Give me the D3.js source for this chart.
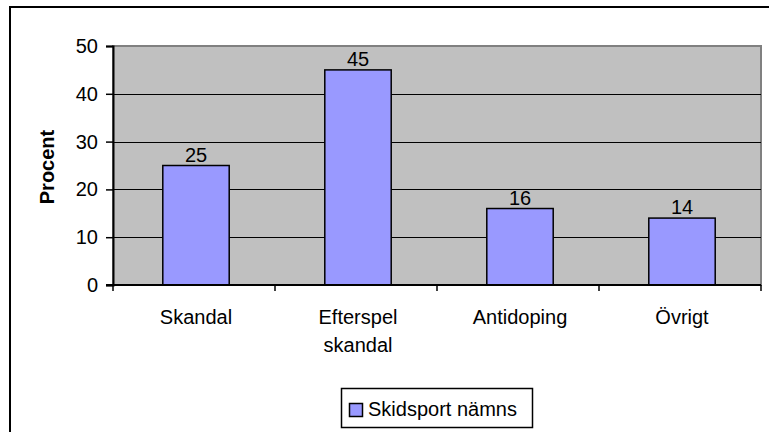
<meta charset="utf-8">
<style>
  body { margin: 0; background: #fff; }
  text { font-family: "Liberation Sans", Arial, sans-serif; fill: #000; }
  .bar { fill: #9999ff; stroke: #000; stroke-width: 1.5; }
  .grid line { stroke: #000; stroke-width: 1; }
</style>
<body>
<script src="https://d3js.org/d3.v7.min.js"></script>
<script>

// data
var categories = ["Skandal", "Efterspel skandal", "Antidoping", "Övrigt"];
var values = [25, 45, 16, 14];
var yTicks = [0, 10, 20, 30, 40, 50];
var seriesName = "Skidsport nämns";
var yTitle = "Procent";

var W = 769, H = 432;
var plot = {left: 113, right: 761, top: 46, bottom: 285};

var svg = d3.select("body").append("svg")
    .attr("width", W)
    .attr("height", H);

// outer frame (right and bottom run off the page)
svg.append("rect")
    .attr("x", 10).attr("y", 7)
    .attr("width", 800).attr("height", 500)
    .attr("fill", "none")
    .attr("stroke", "#000")
    .attr("stroke-width", 2);

var x = d3.scaleBand().domain(categories).range([plot.left, plot.right]);
var y = d3.scaleLinear().domain([0, 50]).range([plot.bottom, plot.top]);

// plot area
svg.append("rect")
    .attr("x", plot.left).attr("y", plot.top)
    .attr("width", plot.right - plot.left)
    .attr("height", plot.bottom - plot.top)
    .attr("fill", "#c0c0c0")
    .attr("stroke", "#808080")
    .attr("stroke-width", 2);

// gridlines
svg.append("g").attr("class", "grid")
  .selectAll("line")
    .data(yTicks.filter(function(d) { return d > 0 && d < 50; }))
  .enter().append("line")
    .attr("x1", plot.left).attr("x2", plot.right)
    .attr("y1", function(d) { return Math.round(y(d)) + 0.5; })
    .attr("y2", function(d) { return Math.round(y(d)) + 0.5; });

// bars (sit a touch right of band centre, as in the original)
var bw = x.bandwidth() * 0.41;
var mid = function(c) { return x(c) + x.bandwidth() / 2 + 2; };
svg.selectAll(".bar")
    .data(values)
  .enter().append("rect")
    .attr("class", "bar")
    .attr("x", function(d, i) { return mid(categories[i]) - bw / 2; })
    .attr("y", function(d) { return y(d); })
    .attr("width", bw)
    .attr("height", function(d) { return y(0) - y(d); });

// value labels
svg.selectAll(".val")
    .data(values)
  .enter().append("text")
    .attr("class", "val")
    .attr("x", function(d, i) { return mid(categories[i]); })
    .attr("y", function(d) { return y(d) - 4; })
    .attr("text-anchor", "middle")
    .style("font-size", "20px")
    .text(function(d) { return d; });

// y axis
var yAxis = svg.append("g")
    .attr("transform", "translate(" + plot.left + ",0)")
    .call(d3.axisLeft(y).tickValues(yTicks).tickSize(7).tickPadding(8));
yAxis.select(".domain").attr("stroke", "#000").attr("stroke-width", 2);
yAxis.selectAll(".tick line").attr("stroke", "#000").attr("stroke-width", 1.5);
yAxis.selectAll("text")
    .style("font-size", "20px")
    .style("font-family", "'Liberation Sans', Arial, sans-serif")
    .attr("fill", "#000");

// x axis line + boundary ticks
svg.append("line")
    .attr("x1", plot.left - 7).attr("x2", plot.right)
    .attr("y1", plot.bottom).attr("y2", plot.bottom)
    .attr("stroke", "#000").attr("stroke-width", 2);
var bounds = categories.map(function(c) { return x(c); }).concat([plot.right]);
svg.selectAll(".xtick")
    .data(bounds)
  .enter().append("line")
    .attr("x1", function(d) { return d; })
    .attr("x2", function(d) { return d; })
    .attr("y1", plot.bottom)
    .attr("y2", plot.bottom + 6)
    .attr("stroke", "#000").attr("stroke-width", 1.5);

// category labels (wrapped on space)
var cat = svg.selectAll(".cat")
    .data(categories)
  .enter().append("text")
    .attr("class", "cat")
    .attr("text-anchor", "middle")
    .style("font-size", "20px")
    .attr("y", 324);
cat.selectAll("tspan")
    .data(function(d) { return d.split(" ").map(function(w) { return {w: w, c: d}; }); })
  .enter().append("tspan")
    .attr("x", function(d) { return mid(d.c); })
    .attr("dy", function(d, i) { return i ? 28 : 0; })
    .text(function(d) { return d.w; });

// y title
svg.append("text")
    .attr("transform", "translate(54,167) rotate(-90)")
    .attr("text-anchor", "middle")
    .style("font-size", "20px")
    .style("font-weight", "bold")
    .text(yTitle);

// legend
var lg = svg.append("g");
lg.append("rect")
    .attr("x", 341.5).attr("y", 388.5)
    .attr("width", 191).attr("height", 39)
    .attr("fill", "#fff").attr("stroke", "#000").attr("stroke-width", 1.5);
lg.append("rect")
    .attr("x", 349.5).attr("y", 403.5)
    .attr("width", 13).attr("height", 13)
    .attr("fill", "#9999ff").attr("stroke", "#000").attr("stroke-width", 1.5);
lg.append("text")
    .attr("x", 368).attr("y", 416)
    .style("font-size", "20px")
    .text(seriesName);

</script>
</body>
